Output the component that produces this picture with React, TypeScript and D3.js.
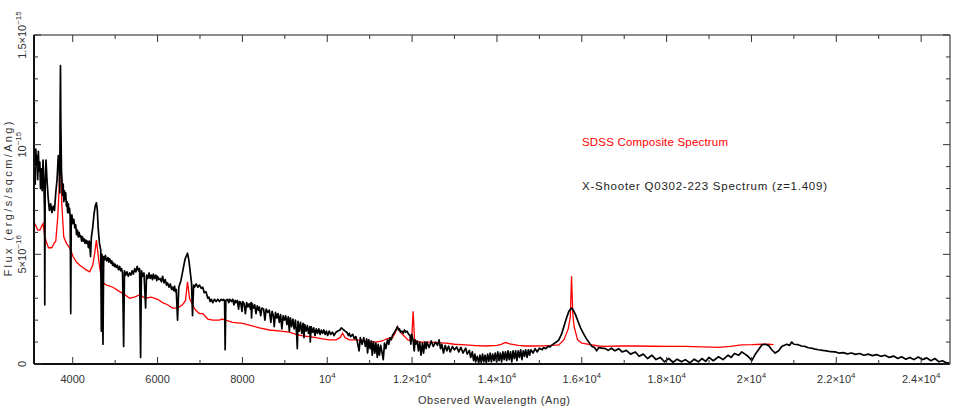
import React from 'react';
import * as d3 from 'd3';

// observed wavelength (Ang) and flux in units of 1e-16 erg/s/sqcm/Ang
const xshooterWave = [
  3090, 3100, 3115, 3130, 3145, 3160, 3175, 3190, 3205, 3225, 3240, 3260, 3280, 3300, 3320, 3335, 3341, 3350,
  3370, 3390, 3420, 3450, 3480, 3510, 3540, 3570, 3600, 3630, 3660, 3680, 3695, 3703, 3711, 3720, 3735, 3750,
  3760, 3775, 3790, 3805, 3820, 3835, 3850, 3865, 3880, 3895, 3910, 3925, 3940, 3953, 3965, 3980, 4000, 4025,
  4050, 4070, 4090, 4110, 4130, 4150, 4170, 4190, 4210, 4230, 4250, 4270, 4290, 4310, 4330, 4350, 4370, 4390,
  4400, 4420, 4440, 4470, 4500, 4530, 4558, 4580, 4600, 4630, 4660, 4675, 4690, 4713, 4730, 4750, 4770, 4800,
  4830, 4850, 4871, 4900, 4920, 4940, 4960, 4980, 5000, 5025, 5050, 5080, 5106, 5130, 5150, 5175, 5200, 5220,
  5250, 5280, 5310, 5341, 5370, 5400, 5430, 5460, 5490, 5520, 5550, 5576, 5600, 5620, 5650, 5680, 5718, 5740,
  5770, 5800, 5825, 5852, 5880, 5900, 5930, 5960, 5980, 6000, 6030, 6060, 6090, 6118, 6150, 6180, 6210, 6235,
  6270, 6300, 6330, 6353, 6380, 6400, 6420, 6440, 6471, 6500, 6550, 6600, 6650, 6706, 6740, 6770, 6800, 6824,
  6850, 6871, 6910, 6948, 6988, 7030, 7066, 7100, 7140, 7184, 7210, 7240, 7270, 7301, 7340, 7380, 7420, 7459,
  7500, 7530, 7560, 7580, 7593, 7610, 7650, 7680, 7700, 7740, 7772, 7800, 7830, 7850, 7880, 7910, 7930, 7960,
  7990, 8007, 8040, 8070, 8100, 8130, 8160, 8190, 8205, 8215, 8230, 8260, 8290, 8320, 8350, 8380, 8400, 8430,
  8460, 8500, 8530, 8560, 8600, 8635, 8670, 8700, 8730, 8750, 8780, 8810, 8840, 8870, 8900, 8930, 8960, 8990,
  9020, 9050, 9080, 9106, 9130, 9160, 9190, 9220, 9250, 9280, 9294, 9310, 9340, 9370, 9400, 9430, 9450, 9470,
  9500, 9530, 9560, 9590, 9600, 9620, 9650, 9680, 9710, 9740, 9770, 9800, 9830, 9860, 9890, 9920, 9950, 9980,
  10010, 10047, 10080, 10120, 10160, 10205, 10250, 10300, 10330, 10360, 10390, 10420, 10460, 10500, 10518,
  10550, 10600, 10640, 10675, 10710, 10750, 10780, 10820, 10860, 10900, 10930, 10950, 10980, 11010, 11040,
  11060, 11090, 11120, 11146, 11180, 11200, 11230, 11260, 11294, 11320, 11350, 11380, 11420, 11450, 11480,
  11510, 11537, 11570, 11600, 11630, 11654, 11680, 11700, 11730, 11760, 11790, 11820, 11852, 11880, 11920,
  11950, 11970, 11990, 12024, 12050, 12070, 12088, 12120, 12150, 12180, 12210, 12243, 12270, 12300, 12330,
  12350, 12400, 12450, 12500, 12550, 12600, 12636, 12670, 12700, 12740, 12780, 12820, 12860, 12900, 12949,
  13000, 13050, 13100, 13150, 13200, 13264, 13300, 13350, 13380, 13419, 13450, 13480, 13500, 13537, 13570,
  13600, 13630, 13660, 13690, 13720, 13750, 13780, 13810, 13840, 13870, 13900, 13930, 13960, 13990, 14020,
  14050, 14080, 14110, 14140, 14170, 14200, 14230, 14260, 14290, 14320, 14350, 14380, 14410, 14440, 14470,
  14500, 14530, 14560, 14590, 14620, 14650, 14676, 14710, 14740, 14770, 14800, 14850, 14900, 14950, 15000,
  15066, 15100, 15150, 15200, 15250, 15302, 15400, 15459, 15520, 15577, 15640, 15695, 15758, 15800, 15852,
  15910, 15970, 16050, 16125, 16200, 16243, 16300, 16350, 16400, 16480, 16558, 16620, 16700, 16780, 16871,
  16950, 17050, 17150, 17264, 17350, 17450, 17550, 17655, 17750, 17850, 17950, 18048, 18150, 18250, 18350,
  18440, 18550, 18650, 18750, 18831, 18920, 19000, 19100, 19224, 19330, 19450, 19520, 19600, 19700, 19772,
  19850, 19930, 20008, 20090, 20165, 20243, 20320, 20400, 20478, 20558, 20640, 20713, 20830, 20900, 20949,
  21000, 21100, 21180, 21264, 21340, 21420, 21500, 21577, 21680, 21770, 21870, 21970, 22060, 22160, 22260,
  22360, 22450, 22550, 22650, 22753, 22850, 22950, 23050, 23146, 23250, 23350, 23450, 23537, 23640, 23730,
  23830, 23930, 24030, 24130, 24230, 24323, 24420, 24500, 24600, 24670,
];
const xshooterFlux = [
  8.6, 9.6, 8.2, 9.8, 9.0, 9.5, 8.4, 9.7, 8.8, 9.2, 8.0, 8.9, 7.9, 9.3, 8.2, 7.0, 2.7, 8.0,
  9.3, 8.5, 7.6, 7.0, 7.3, 6.9, 7.2, 7.0, 7.8, 8.4, 9.5, 9.0, 7.8, 11.5, 13.6, 11.0, 8.8, 8.3,
  7.7, 8.2, 7.4, 7.9, 7.5, 7.8, 7.2, 7.4, 6.9, 7.3, 6.9, 7.1, 6.7, 2.3, 6.6, 6.8, 6.4, 6.6,
  6.2, 6.35, 5.9, 6.1, 5.8, 6.0, 5.8, 5.85, 5.6, 5.8, 5.6, 5.7, 5.5, 5.65, 5.5, 5.6, 5.3, 5.6,
  5.5, 4.9, 5.8, 6.2, 6.8, 7.2, 7.35, 7.0, 6.2, 5.5, 5.2, 1.5, 5.0, 0.9, 4.9, 4.75, 4.95, 4.7,
  4.85, 4.65, 4.8, 4.6, 4.7, 4.5, 4.6, 4.45, 4.55, 4.4, 4.5, 4.3, 4.45, 4.25, 4.35, 4.15, 0.8, 4.25,
  4.05, 4.2, 4.0, 4.15, 4.05, 4.25, 4.1, 4.35, 4.2, 4.45, 4.25, 4.35, 0.3, 4.25, 4.0, 4.15, 2.55, 4.05,
  3.9, 4.15, 3.9, 4.05, 3.85, 4.1, 3.9, 4.05, 3.8, 4.0, 3.85, 3.9, 3.75, 4.0, 3.7, 3.85, 3.6, 3.7,
  3.5, 3.65, 3.4, 3.5, 3.35, 3.55, 3.3, 3.4, 2.0, 3.5, 3.8, 4.3, 4.8, 5.05, 4.7, 4.2, 3.7, 2.2,
  3.6, 3.5, 3.65, 3.5, 3.6, 3.45, 3.5, 3.25, 3.3, 3.0, 3.05, 2.85, 2.95, 2.8, 2.95, 2.85, 2.95, 2.85,
  2.95, 2.9, 2.95, 2.85, 0.65, 2.9, 2.95, 2.8, 2.95, 2.85, 2.95, 2.7, 2.9, 2.8, 2.9, 2.5, 2.85, 2.8,
  2.4, 2.85, 2.75, 2.3, 2.8, 2.6, 2.75, 2.5, 2.8, 2.1, 2.75, 2.55, 2.7, 2.3, 2.65, 2.45, 2.6, 2.2,
  2.55, 2.5, 2.0, 2.5, 2.35, 2.45, 1.9, 2.4, 2.2, 1.7, 2.35, 2.1, 2.3, 1.9, 2.25, 1.6, 2.2, 2.0,
  2.2, 1.8, 2.15, 1.5, 2.1, 1.7, 2.05, 1.6, 2.0, 1.3, 0.7, 1.95, 1.5, 1.9, 1.4, 1.85, 1.2, 1.8,
  1.5, 1.75, 1.4, 1.7, 1.0, 1.7, 1.45, 1.65, 1.3, 1.6, 1.4, 1.6, 1.35, 1.55, 1.4, 1.55, 1.35, 1.5,
  1.3, 1.5, 1.35, 1.45, 1.3, 1.45, 1.5, 1.55, 1.65, 1.6, 1.55, 1.5, 1.45, 1.3, 1.4,
  1.25, 1.35, 1.15, 1.25, 1.0, 0.6, 1.2, 0.9, 1.2, 0.8, 1.15, 0.5, 1.1, 0.7, 1.05,
  0.4, 1.0, 0.5, 0.95, 0.3, 0.9, 0.4, 0.85, 0.5, 0.2, 0.95, 0.7, 1.1, 0.9, 1.2,
  1.1, 1.3, 1.4, 1.5, 1.6, 1.7, 1.55, 1.6, 1.45, 1.5, 1.4, 1.55, 1.45, 1.5, 1.35,
  1.3, 0.9, 1.35, 1.1, 0.6, 1.1, 0.9, 1.05, 0.6, 1.0, 0.4, 0.95, 0.5, 1.0, 0.7,
  1.0, 0.75, 1.05, 0.8, 1.0, 0.85, 1.1, 0.7, 0.9, 0.5, 0.85, 0.6, 0.82, 0.55, 0.8,
  0.65, 0.78, 0.55, 0.76, 0.5, 0.72, 0.45, 0.62, 0.3, 0.55, 0.15, 0.45, 0.1, 0.35, 0.05,
  0.4, 0.08, 0.45, 0.1, 0.4, 0.05, 0.45, 0.12, 0.5, 0.1, 0.45, 0.15, 0.5, 0.1, 0.55,
  0.15, 0.5, 0.1, 0.55, 0.2, 0.55, 0.15, 0.6, 0.2, 0.55, 0.1, 0.6, 0.25, 0.6, 0.15,
  0.6, 0.3, 0.65, 0.2, 0.6, 0.35, 0.65, 0.3, 0.65, 0.4, 0.65, 0.5, 0.7, 0.55, 0.72,
  0.65, 0.75, 0.7, 0.8, 0.78, 0.87, 1.0, 1.1, 1.35, 1.7, 2.1, 2.4, 2.55, 2.45, 2.25,
  1.95, 1.65, 1.35, 1.1, 0.9, 0.8, 0.75, 0.6, 0.75, 0.72, 0.7, 0.62, 0.72, 0.6, 0.7,
  0.55, 0.62, 0.45, 0.55, 0.35, 0.45, 0.25, 0.4, 0.2, 0.3, 0.1, 0.25, 0.08, 0.22, 0.1,
  0.2, 0.05, 0.22, 0.1, 0.25, 0.12, 0.3, 0.15, 0.33, 0.2, 0.4, 0.3, 0.48, 0.4, 0.55,
  0.45, 0.33, 0.15, 0.45, 0.65, 0.87, 0.9, 0.85, 0.65, 0.5, 0.6, 0.8, 0.9, 0.85, 1.0,
  0.9, 0.88, 0.82, 0.8, 0.74, 0.72, 0.68, 0.65, 0.62, 0.6, 0.56, 0.55, 0.5, 0.52, 0.46,
  0.5, 0.44, 0.48, 0.4, 0.45, 0.38, 0.43, 0.35, 0.4, 0.3, 0.36, 0.25, 0.33, 0.22, 0.3,
  0.2, 0.32, 0.2, 0.28, 0.15, 0.25, 0.1, 0.15, 0.05, 0.05,
];

const sdssWave = [
  3090, 3130, 3176, 3224, 3271, 3301, 3341, 3388, 3430, 3459, 3506, 3560, 3600, 3647, 3680, 3700, 3711, 3720,
  3741, 3788, 3852, 3906, 3953, 4007, 4087, 4165, 4242, 4306, 4400, 4471, 4518, 4558, 4585, 4612, 4660, 4713,
  4800, 4948, 5106, 5200, 5341, 5450, 5576, 5718, 5852, 6000, 6118, 6235, 6353, 6471, 6588, 6659, 6706, 6753,
  6824, 6900, 6988, 7066, 7184, 7301, 7459, 7520, 7600, 7772, 8007, 8205, 8400, 8635, 8900, 9106, 9264, 9419,
  9577, 9734, 9890, 10047, 10205, 10300, 10360, 10420, 10518, 10675, 10900, 11146, 11294, 11400, 11537, 11600,
  11654, 11720, 11800, 11900, 11990, 12024, 12060, 12200, 12400, 12600, 12800, 13000, 13264, 13500, 13735,
  14000, 14100, 14200, 14300, 14500, 14676, 14900, 15100, 15302, 15459, 15577, 15680, 15730, 15758, 15790,
  15820, 15900, 16000, 16200, 16400, 16558, 16871, 17264, 17655, 18048, 18440, 18831, 19224, 19500, 19772,
  20008, 20243, 20400, 20518,
];
const sdssFlux = [
  6.45, 6.3, 6.1, 6.1, 6.3, 6.4, 5.8, 5.5, 5.3, 5.3, 5.3, 5.5, 5.6, 6.7, 8.0, 9.5, 10.0, 9.0,
  7.35, 5.8, 5.5, 5.35, 5.2, 4.9, 4.65, 4.5, 4.4, 4.3, 4.2, 4.5, 5.05, 5.65, 5.2, 4.75, 4.1, 3.7,
  3.6, 3.5, 3.3, 3.2, 3.0, 3.05, 3.15, 3.0, 3.05, 2.95, 2.8, 2.7, 2.55, 2.55, 2.7, 2.9, 3.75, 3.0,
  2.7, 2.45, 2.3, 2.3, 2.05, 2.0, 2.0, 2.05, 2.0, 1.9, 1.85, 1.75, 1.65, 1.55, 1.5, 1.45, 1.35, 1.28,
  1.25, 1.2, 1.15, 1.1, 1.1, 1.2, 1.4, 1.2, 1.1, 1.1, 1.05, 1.0, 1.05, 1.15, 1.2, 1.4,
  1.7, 1.45, 1.3, 1.1, 1.05, 2.4, 1.05, 1.0, 1.0, 0.97, 0.95, 0.9, 0.87, 0.84, 0.82,
  0.85, 0.9, 0.98, 0.92, 0.85, 0.82, 0.82, 0.83, 0.85, 0.87, 1.1, 1.6, 2.15, 4.0, 2.2,
  1.7, 1.1, 0.95, 0.88, 0.82, 0.8, 0.82, 0.82, 0.81, 0.8, 0.8, 0.78, 0.76, 0.8, 0.87,
  0.88, 0.9, 0.9, 0.88,
];

const majorTicksX = [4000, 6000, 8000, 10000, 12000, 14000, 16000, 18000, 20000, 22000, 24000];
const majorTickLabelsX = [
  ['4000', ''], ['6000', ''], ['8000', ''], ['10', '4'], ['1.2×10', '4'], ['1.4×10', '4'],
  ['1.6×10', '4'], ['1.8×10', '4'], ['2×10', '4'], ['2.2×10', '4'], ['2.4×10', '4'],
];
const majorTicksY = [0, 5, 10, 15];
const majorTickLabelsY = [['0', ''], ['5×10', '−16'], ['10', '−15'], ['1.5×10', '−15']];

const legendLabels = ['SDSS Composite Spectrum', 'X-Shooter Q0302-223 Spectrum (z=1.409)'];

const W = 954;
const H = 409;
const margin = { top: 35, right: 4, bottom: 45, left: 34 };
const font = "'Liberation Sans', Arial, sans-serif";

export default function App() {
  const x = d3.scaleLinear().domain([3087, 24680]).range([margin.left, W - margin.right]);
  const y = d3.scaleLinear().domain([0, 15]).range([H - margin.bottom, margin.top]);

  const spectrum = d3
    .line<[number, number]>()
    .x((d) => x(d[0]))
    .y((d) => y(d[1]));
  const blackPath = spectrum(xshooterWave.map((w, i) => [w, xshooterFlux[i]]));
  const redPath = spectrum(sdssWave.map((w, i) => [w, sdssFlux[i]]));

  const minorX = d3.range(4000, 24700, 1000).filter((v) => !majorTicksX.includes(v));
  const minorY = d3.range(1, 15, 1).filter((v) => !majorTicksY.includes(v));

  const [x0, x1] = x.range();
  const [y0, y1] = y.range();

  return (
    <svg width={W} height={H} style={{ position: 'absolute', left: 0, top: 0 }} fontFamily={font}>
      <rect width={W} height={H} fill="#fff" />
      <g>
        <path d={redPath ?? ''} fill="none" stroke="#ff0000" strokeWidth={1.3} />
        <path d={blackPath ?? ''} fill="none" stroke="#000" strokeWidth={1.7} strokeLinejoin="round" />
      </g>

      {/* frame */}
      <line x1={x0} x2={x1} y1={y1} y2={y1} stroke="#666" strokeWidth={1.5} />
      <line x1={x1} x2={x1} y1={y1} y2={y0} stroke="#666" strokeWidth={1.5} />
      <line x1={x0} x2={x1} y1={y0} y2={y0} stroke="#111" strokeWidth={2} />
      <line x1={x0} x2={x0} y1={y1} y2={y0} stroke="#111" strokeWidth={2} />

      {/* x ticks */}
      {majorTicksX.map((v) => (
        <g key={'mx' + v}>
          <line x1={x(v)} x2={x(v)} y1={y0} y2={y0 - 7} stroke="#333" />
          <line x1={x(v)} x2={x(v)} y1={y1} y2={y1 + 7} stroke="#333" />
        </g>
      ))}
      {minorX.map((v) => (
        <g key={'nx' + v}>
          <line x1={x(v)} x2={x(v)} y1={y0} y2={y0 - 4} stroke="#333" />
          <line x1={x(v)} x2={x(v)} y1={y1} y2={y1 + 4} stroke="#333" />
        </g>
      ))}
      {majorTicksX.map((v, i) => (
        <text key={'lx' + v} x={x(v)} y={y0 + 19} fontSize={11} fill="#333" textAnchor="middle">
          {majorTickLabelsX[i][0]}
          {majorTickLabelsX[i][1] && (
            <tspan fontSize={8} dy={-5}>
              {majorTickLabelsX[i][1]}
            </tspan>
          )}
        </text>
      ))}

      {/* y ticks */}
      {majorTicksY.map((v) => (
        <g key={'my' + v}>
          <line x1={x0} x2={x0 + 7} y1={y(v)} y2={y(v)} stroke="#333" />
          <line x1={x1} x2={x1 - 7} y1={y(v)} y2={y(v)} stroke="#333" />
        </g>
      ))}
      {minorY.map((v) => (
        <g key={'ny' + v}>
          <line x1={x0} x2={x0 + 4} y1={y(v)} y2={y(v)} stroke="#333" />
          <line x1={x1} x2={x1 - 4} y1={y(v)} y2={y(v)} stroke="#333" />
        </g>
      ))}
      {majorTicksY.map((v, i) => (
        <text
          key={'ly' + v}
          transform={`translate(26,${y(v)}) rotate(-90)`}
          fontSize={11}
          fill="#333"
          textAnchor="middle"
        >
          {majorTickLabelsY[i][0]}
          {majorTickLabelsY[i][1] && (
            <tspan fontSize={8} dy={-5}>
              {majorTickLabelsY[i][1]}
            </tspan>
          )}
        </text>
      ))}

      {/* axis titles */}
      <text x={494} y={404} fontSize={11} fill="#333" textAnchor="middle" textLength={152} lengthAdjust="spacing">
        Observed Wavelength (Ang)
      </text>
      <text
        transform="translate(12,199) rotate(-90)"
        fontSize={11}
        fill="#333"
        textAnchor="middle"
        textLength={155}
        lengthAdjust="spacing"
      >
        Flux (erg/s/sqcm/Ang)
      </text>

      {/* legend */}
      <text x={582} y={146} fontSize={11.5} fill="#ff0000" textLength={146} lengthAdjust="spacing">
        {legendLabels[0]}
      </text>
      <text x={582} y={190} fontSize={11.5} fill="#222" textLength={245} lengthAdjust="spacing">
        {legendLabels[1]}
      </text>
    </svg>
  );
}
